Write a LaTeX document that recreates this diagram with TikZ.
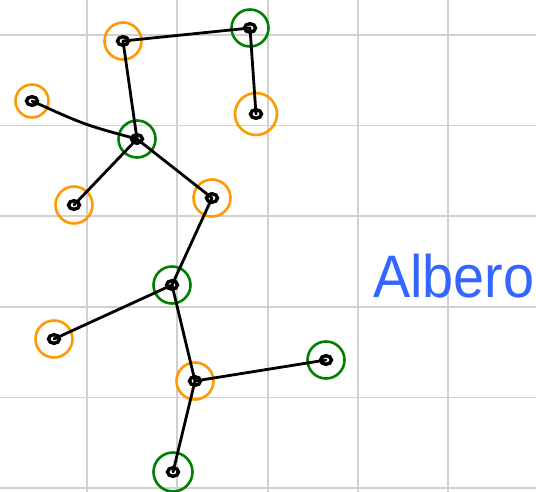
\documentclass[tikz,border=0pt]{standalone}
\usepackage{fontspec}
\setmainfont{Liberation Sans}
\definecolor{gridgray}{RGB}{208,208,208}
\definecolor{nodeorange}{RGB}{255,153,0}
\definecolor{nodegreen}{RGB}{0,128,0}
\definecolor{textblue}{RGB}{51,102,255}
\begin{document}
\begin{tikzpicture}[x=1pt,y=-1pt,
  vert/.style={circle,draw,line width=2.6pt,minimum size=37pt,inner sep=0pt,
    path picture={\draw[draw=black,line width=3.4pt] (path picture bounding box.center) ellipse (5.5pt and 4.3pt);}},
  orangevert/.style={vert,draw=nodeorange},
  greenvert/.style={vert,draw=nodegreen},
  edge/.style={line width=2.8pt,black,line cap=round},
  gridline/.style={line width=1.8pt,gridgray}]
\useasboundingbox (0,0) rectangle (536,492);
\fill[white] (0,0) rectangle (536,492);
% grid
\foreach \gx in {87,177.3,267.6,357.9,448.2}
  \draw[gridline] (\gx,0) -- (\gx,492);
\foreach \gy in {35,125.6,216.2,306.8,397.4,488}
  \draw[gridline] (0,\gy) -- (536,\gy);
% nodes
\node[orangevert] (n1) at (123,41) {};
\node[greenvert] (n2) at (250,28) {};
\node[orangevert,minimum size=33pt] (n3) at (32,101) {};
\node[orangevert,minimum size=42pt] (n4) at (256,114) {};
\node[greenvert] (n5) at (137,139) {};
\node[orangevert] (n6) at (74,205) {};
\node[orangevert] (n7) at (212,198) {};
\node[greenvert] (n8) at (172,285) {};
\node[orangevert] (n9) at (54,339) {};
\node[orangevert] (n10) at (195,381) {};
\node[greenvert] (n11) at (326,360) {};
\node[greenvert,minimum size=39pt] (n12) at (173,472) {};
% edges
\draw[edge] (n1.center) -- (n2.center);
\draw[edge] (n1.center) -- (n5.center);
\draw[edge] (n2.center) -- (n4.center);
\draw[edge] (n3.center) .. controls (85,125) .. (n5.center);
\draw[edge] (n5.center) -- (n6.center);
\draw[edge] (n5.center) -- (n7.center);
\draw[edge] (n7.center) -- (n8.center);
\draw[edge] (n8.center) -- (n9.center);
\draw[edge] (n8.center) -- (n10.center);
\draw[edge] (n10.center) -- (n11.center);
\draw[edge] (n10.center) -- (n12.center);
% label
\node[anchor=base west,inner sep=0pt,text=textblue,font=\fontsize{60}{60}\selectfont,xscale=0.93] (lbl) at (373,297) {Albero};
\end{tikzpicture}
\end{document}
